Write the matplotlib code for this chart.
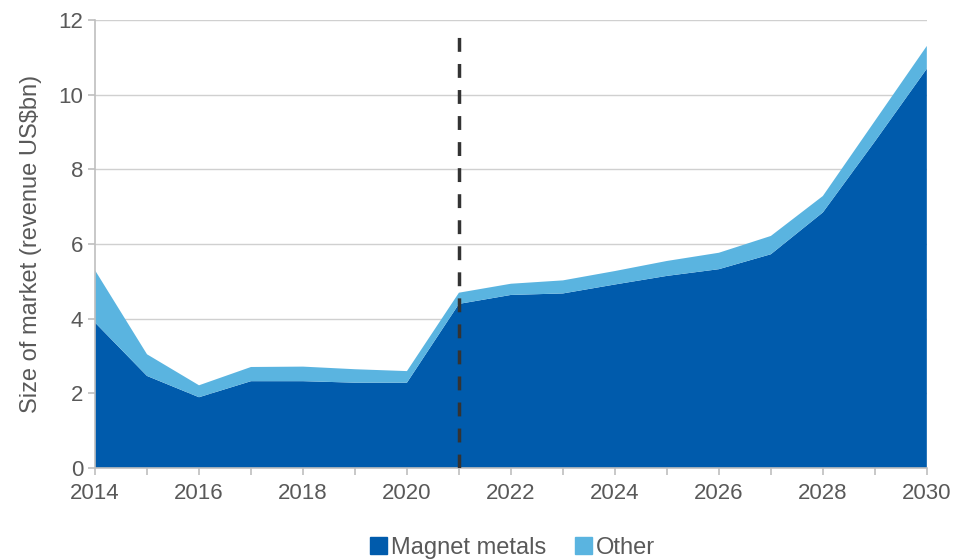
import numpy as np
import matplotlib.pyplot as plt
from matplotlib.patches import Patch

plt.rcParams['font.family'] = ['Liberation Sans', 'DejaVu Sans']

# data (US$bn)
years = [2014, 2015, 2016, 2017, 2018, 2019, 2020, 2021, 2022,
         2023, 2024, 2025, 2026, 2027, 2028, 2029, 2030]
magnet = [3.9, 2.47, 1.9, 2.33, 2.33, 2.29, 2.29, 4.4, 4.64,
          4.68, 4.92, 5.15, 5.33, 5.73, 6.85, 8.75, 10.7]
total = [5.3, 3.05, 2.22, 2.71, 2.72, 2.65, 2.6, 4.7, 4.94,
         5.03, 5.28, 5.55, 5.77, 6.22, 7.29, 9.3, 11.31]
other = [t - m for t, m in zip(total, magnet)]

forecast_start = 2021
xticks = list(range(2014, 2031, 2))
yticks = list(range(0, 13, 2))

dark = '#005BAC'
light = '#5AB4E0'
txt = '#595959'

fig = plt.figure(figsize=(9.55, 5.6), dpi=100)
ax = fig.add_axes([0.0995, 0.164, 0.871, 0.8])

ax.stackplot(years, magnet, other, colors=[dark, light], linewidth=0)
ax.plot([forecast_start, forecast_start], [0, 11.8], color='#333333',
        lw=2.5, dashes=(4, 3.5), zorder=3)

ax.set_xlim(2014, 2030)
ax.set_ylim(0, 12)
ax.set_xticks(xticks)
ax.set_xticks(years, minor=True)
ax.set_yticks(yticks)
ax.grid(axis='y', color='#D0D0D0', lw=1)
ax.set_axisbelow(True)

for s in ['top', 'right']:
    ax.spines[s].set_visible(False)
for s in ['left', 'bottom']:
    ax.spines[s].set_color('#BFBFBF')
    ax.spines[s].set_linewidth(1.2)

ax.tick_params(axis='both', colors='#BFBFBF', labelcolor=txt, labelsize=16,
               length=5, width=1.2)
ax.tick_params(axis='x', which='minor', colors='#BFBFBF', length=5, width=1.2)
ax.tick_params(axis='x', pad=6)
ax.set_ylabel('Size of market (revenue US\\$bn)', color=txt, fontsize=17,
              labelpad=12)

handles = [Patch(color=dark, label='Magnet metals'),
           Patch(color=light, label='Other')]
fig.legend(handles=handles, loc='center', bbox_to_anchor=(0.537, 0.022),
           ncol=2, frameon=False, fontsize=17, handlelength=0.7,
           handleheight=0.7, handletextpad=0.2, columnspacing=1.2,
           labelcolor=txt)

fig.savefig('out.png', dpi=100)
